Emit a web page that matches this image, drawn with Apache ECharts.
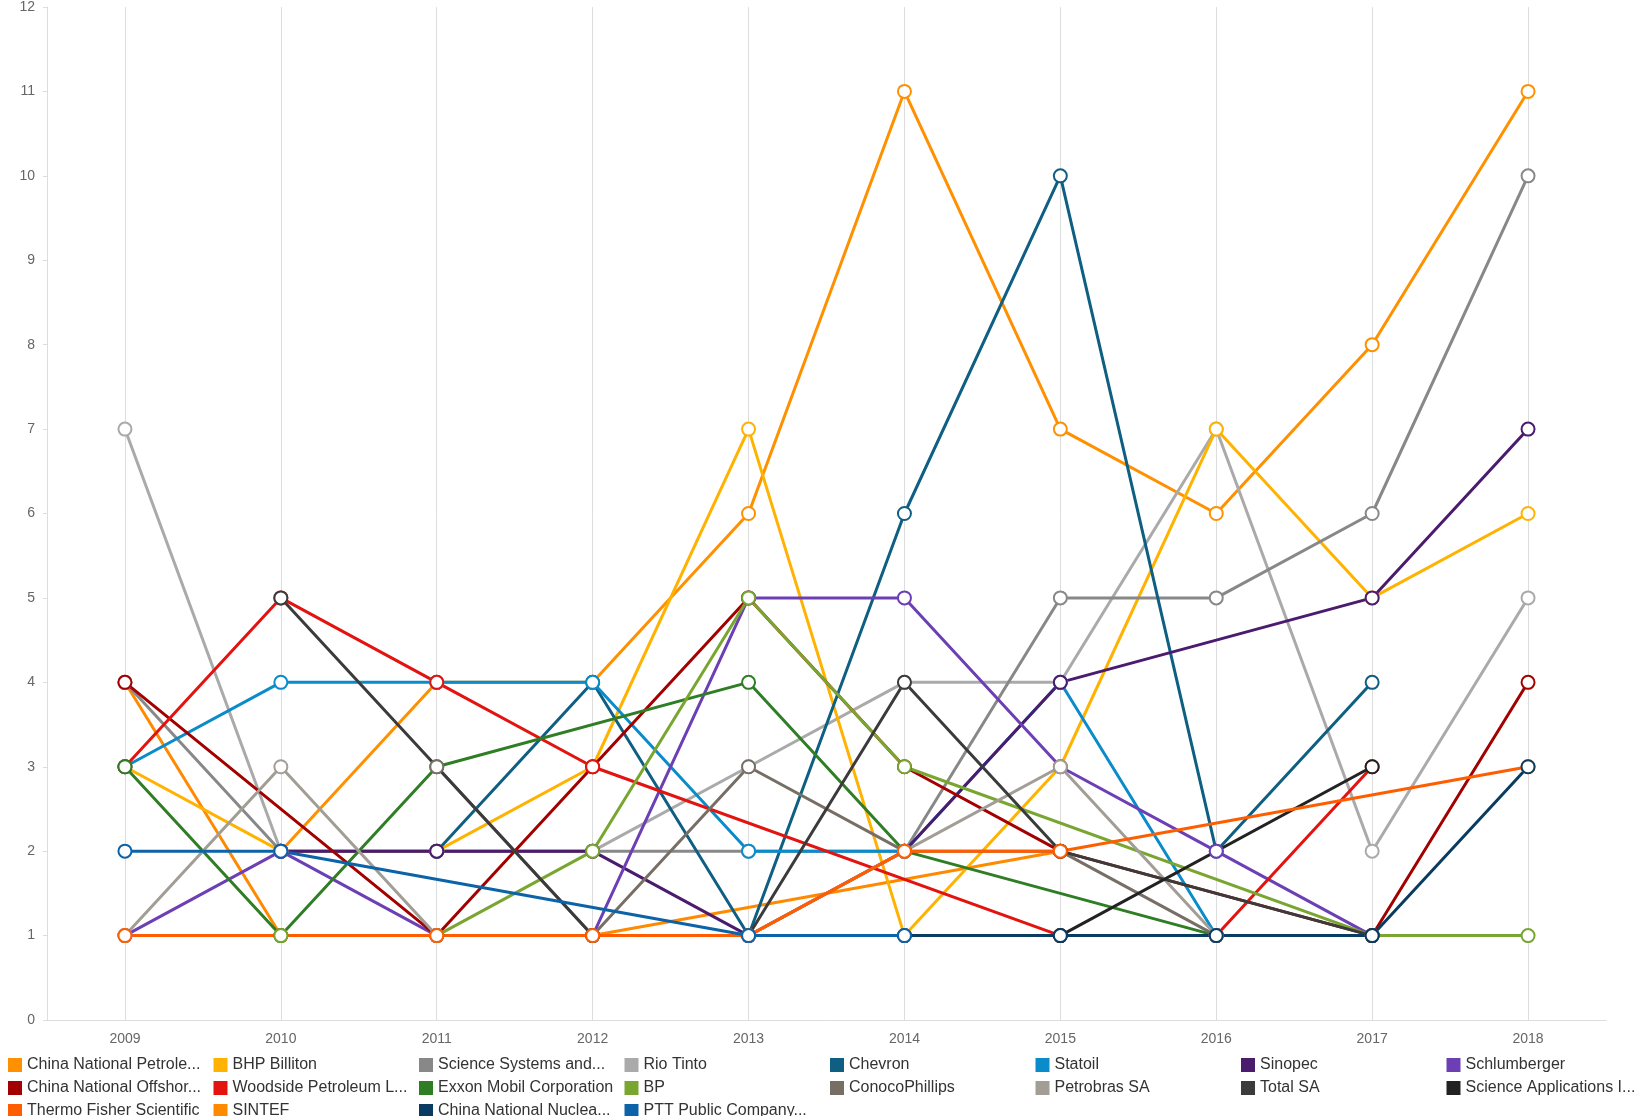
<!DOCTYPE html>
<html>
<head>
<meta charset="utf-8">
<title>Companies per year</title>
<script src="https://cdn.jsdelivr.net/npm/echarts@6.0.0/dist/echarts.min.js"></script>
<style>
    html, body {
        margin: 0;
        padding: 0;
        background: #ffffff;
    }

    #chart_1 {
        width: 1652px;
        height: 1116px;
    }
</style>
</head>
<body>
<div id="chart_1"></div>
<script>
// x axis categories
const years = ['2009', '2010', '2011', '2012', '2013', '2014', '2015', '2016', '2017', '2018'];

// one array per company, null = no point that year (line is bridged)
const chinaNationalPetroleum = [null, 2, 4, 4, 6, 11, 7, 6, 8, 11];
const bhpBilliton = [3, 2, 2, 3, 7, 1, 3, 7, 5, 6];
const scienceSystems = [4, 2, 2, 2, 2, 2, 5, 5, 6, 10];
const rioTinto = [7, 2, 2, 2, 3, 4, 4, 7, 2, 5];
const chevron = [null, null, 2, 4, 1, 6, 10, 2, 4, null];
const statoil = [3, 4, 4, 4, 2, 2, 4, 1, null, null];
const sinopec = [null, 2, 2, 2, 1, 2, 4, null, 5, 7];
const schlumberger = [1, 2, 1, 1, 5, 5, 3, 2, 1, null];
const chinaNationalOffshore = [4, null, 1, 3, 5, 3, 2, null, 1, 4];
const woodside = [3, 5, 4, 3, null, null, 1, 1, 3, null];
const exxonMobil = [3, 1, 3, null, 4, 2, null, 1, null, null];
const bp = [null, 1, 1, 2, 5, 3, null, null, 1, 1];
const conocoPhillips = [null, null, 3, 1, 3, 2, 2, 1, null, null];
const petrobras = [1, 3, 1, 1, 1, 2, 3, 1, null, null];
const totalSA = [null, 5, null, 1, 1, 4, 2, null, 1, null];
const scienceApplications = [null, null, null, null, null, null, 1, null, 3, null];
const thermoFisher = [1, null, 1, 1, 1, 2, 2, null, null, 3];
const sintef = [4, 1, 1, 1, null, null, 2, null, null, null];
const chinaNationalNuclear = [null, null, null, null, null, 1, 1, 1, 1, 3];
const pttPublic = [2, 2, null, null, 1, 1, null, null, null, null];

// legend labels as shown (legend order)
const legendNames = [
    'China National Petrole...', 'BHP Billiton', 'Science Systems and...', 'Rio Tinto',
    'Chevron', 'Statoil', 'Sinopec', 'Schlumberger',
    'China National Offshor...', 'Woodside Petroleum L...', 'Exxon Mobil Corporation', 'BP',
    'ConocoPhillips', 'Petrobras SA', 'Total SA', 'Science Applications I...',
    'Thermo Fisher Scientific', 'SINTEF', 'China National Nuclea...', 'PTT Public Company...'
];

// drawing order (later ones sit on top)
const seriesList = [
    ['SINTEF', sintef, '#ff8a00'],
    ['China National Petrole...', chinaNationalPetroleum, '#ff9000'],
    ['Rio Tinto', rioTinto, '#aaaaaa'],
    ['BHP Billiton', bhpBilliton, '#ffb300'],
    ['Science Systems and...', scienceSystems, '#888888'],
    ['Chevron', chevron, '#0f5f82'],
    ['Statoil', statoil, '#0a8ccb'],
    ['Sinopec', sinopec, '#4b1b6e'],
    ['Schlumberger', schlumberger, '#6c3fb5'],
    ['China National Offshor...', chinaNationalOffshore, '#a30000'],
    ['Woodside Petroleum L...', woodside, '#e3130f'],
    ['Exxon Mobil Corporation', exxonMobil, '#2f7e26'],
    ['BP', bp, '#79a531'],
    ['ConocoPhillips', conocoPhillips, '#776e66'],
    ['Petrobras SA', petrobras, '#a29d95'],
    ['Total SA', totalSA, '#3b3b3b'],
    ['Science Applications I...', scienceApplications, '#222222'],
    ['Thermo Fisher Scientific', thermoFisher, '#ff5e00'],
    ['China National Nuclea...', chinaNationalNuclear, '#0a3c62'],
    ['PTT Public Company...', pttPublic, '#0d63a8']
];

let myChart = echarts.init(document.getElementById('chart_1'));

let option = {
    animation: false,
    backgroundColor: '#ffffff',
    textStyle: {
        fontFamily: 'Liberation Sans, Arial, sans-serif'
    },
    grid: {
        left: 47,
        right: 46,
        top: 7,
        bottom: 96,
        containLabel: false
    },
    legend: {
        data: legendNames,
        left: 8,
        top: 1057,
        width: 1644,
        padding: 0,
        itemWidth: 14,
        itemHeight: 14,
        itemGap: 7,
        icon: 'rect',
        // fixed text box so the items line up in columns
        formatter: '{t|{name}}',
        textStyle: {
            color: '#333',
            rich: {
                t: {
                    width: 179.5,
                    fontSize: 16,
                    lineHeight: 14,
                    color: '#333'
                }
            }
        }
    },
    xAxis: {
        type: 'category',
        data: years,
        boundaryGap: true,
        axisLine: {
            lineStyle: { color: '#dddddd' }
        },
        axisTick: {
            // ticks stretched up to act as the vertical grid lines
            show: true,
            alignWithLabel: true,
            inside: true,
            length: 1013,
            lineStyle: { color: '#dddddd' }
        },
        axisLabel: {
            color: '#666',
            fontSize: 14,
            margin: 12
        },
        splitLine: { show: false }
    },
    yAxis: {
        type: 'value',
        min: 0,
        max: 12,
        interval: 1,
        axisLine: {
            show: true,
            lineStyle: { color: '#dddddd' }
        },
        axisTick: {
            show: true,
            length: 4,
            lineStyle: { color: '#dddddd' }
        },
        axisLabel: {
            color: '#666',
            fontSize: 14,
            margin: 12
        },
        splitLine: { show: false }
    },
    series: seriesList.map(function (s) {
        return {
            name: s[0],
            type: 'line',
            data: s[1],
            connectNulls: true,
            symbol: 'emptyCircle',
            symbolSize: 13,
            lineStyle: { width: 3, color: s[2] },
            itemStyle: { color: s[2], borderWidth: 3 },
            emphasis: { disabled: true }
        };
    })
};

myChart.setOption(option);
</script>
</body>
</html>
